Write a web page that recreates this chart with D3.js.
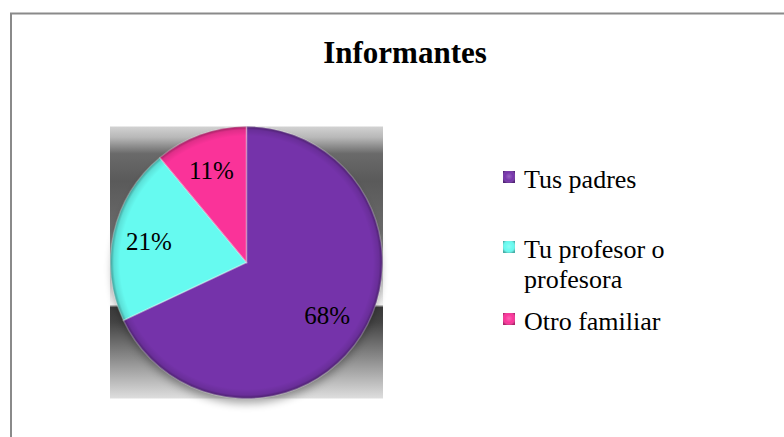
<!DOCTYPE html>
<html>
<head>
<meta charset="utf-8">
<script src="https://cdn.jsdelivr.net/npm/d3@7"></script>
<style>
html,body{margin:0;padding:0;background:#fff;}
svg{display:block;}
</style>
</head>
<body>
<svg id="chart" width="784" height="437"></svg>
<script>
const title = "Informantes";
const categories = ["Tus padres", "Tu profesor o profesora", "Otro familiar"];
const legendLines = [["Tus padres"], ["Tu profesor o", "profesora"], ["Otro familiar"]];
const values = [68, 21, 11];
const colors = ["#7533AA", "#66FAF0", "#FA3399"];

const svg = d3.select("#chart");
const defs = svg.append("defs");
const serif = "'Liberation Serif','Times New Roman',Tinos,serif";

// outer frame
svg.append("rect").attr("x", 11).attr("y", 13.5).attr("width", 820).attr("height", 520)
  .attr("fill", "#fff").attr("stroke", "#8a8a8a").attr("stroke-width", 2);

// title
svg.append("text").attr("x", 405).attr("y", 63).attr("text-anchor", "middle")
  .attr("font-family", serif)
  .attr("font-weight", "bold").attr("font-size", 31).attr("fill", "#000").text(title);

// plot area with chrome gradient
const bg = defs.append("linearGradient").attr("id", "bgGrad").attr("x1", 0).attr("y1", 0).attr("x2", 0).attr("y2", 1);
[[0, "#d2d2d2"], [0.04, "#b8b8b8"], [0.1, "#6a6a6a"], [0.2, "#5a5a5a"], [0.38, "#6a6a6a"], [0.5, "#9a9a9a"], [0.6, "#dcdcdc"], [0.655, "#f6f6f6"], [0.665, "#3a3a3a"], [0.72, "#444"], [0.85, "#8a8a8a"], [1, "#dedede"]]
  .forEach(([o, c]) => bg.append("stop").attr("offset", o).attr("stop-color", c));

const px0 = 110, py0 = 126.5, px1 = 383, py1 = 398.5;
svg.append("rect").attr("x", px0).attr("y", py0).attr("width", px1 - px0).attr("height", py1 - py0)
  .attr("fill", "url(#bgGrad)");

const cx = 246.5, cy = 262.5, r = 136;

// shadow
const blur = defs.append("filter").attr("id", "shadowBlur").attr("x", "-20%").attr("y", "-20%").attr("width", "140%").attr("height", "140%");
blur.append("feGaussianBlur").attr("stdDeviation", 4);
svg.append("ellipse").attr("cx", cx).attr("cy", cy + 6).attr("rx", r - 2).attr("ry", r - 1)
  .attr("fill", "#000").attr("opacity", 0.35).attr("filter", "url(#shadowBlur)");

const g = svg.append("g").attr("transform", `translate(${cx},${cy})`);
const pie = d3.pie().sort(null).value(d => d)(values);
const arc = d3.arc().innerRadius(0).outerRadius(r);

g.selectAll("path.slice").data(pie).join("path").attr("class", "slice")
  .attr("d", arc).attr("fill", (d, i) => colors[i]);

// bevel overlay: darker rim (in user space, centred on the pie)
const rim = defs.append("radialGradient").attr("id", "rimGrad").attr("gradientUnits", "userSpaceOnUse")
  .attr("cx", 0).attr("cy", 0).attr("r", r);
[[0, "rgba(0,0,0,0)"], [0.93, "rgba(0,0,0,0)"], [0.975, "rgba(0,0,0,0.1)"], [1, "rgba(0,0,0,0.38)"]]
  .forEach(([o, c]) => rim.append("stop").attr("offset", o).attr("stop-color", c));
g.selectAll("path.rim").data(pie).join("path").attr("class", "rim")
  .attr("d", arc).attr("fill", "url(#rimGrad)");
// soft light edges between slices
g.selectAll("path.edge").data(pie).join("path").attr("class", "edge")
  .attr("d", arc).attr("fill", "none").attr("stroke", "rgba(255,255,255,0.25)").attr("stroke-width", 1.5);

// labels
const labelArc = d3.arc().innerRadius(r * 0.72).outerRadius(r * 0.72);
g.selectAll("text.lbl").data(pie).join("text").attr("class", "lbl")
  .attr("x", d => labelArc.centroid(d)[0] - 2).attr("y", d => labelArc.centroid(d)[1] + 9)
  .attr("text-anchor", "middle")
  .attr("font-family", serif).attr("font-size", 25).attr("fill", "#000")
  .text(d => d.data + "%");

// legend
const legendY = [188, 258, 330];
const mk = defs.append("radialGradient").attr("id", "mkGrad").attr("cx", "50%").attr("cy", "45%").attr("r", "60%");
[[0, "rgba(255,255,255,0.25)"], [0.6, "rgba(255,255,255,0)"], [1, "rgba(0,0,0,0.3)"]]
  .forEach(([o, c]) => mk.append("stop").attr("offset", o).attr("stop-color", c));
const leg = svg.append("g");
categories.forEach((c, i) => {
  const y = legendY[i];
  leg.append("rect").attr("x", 503).attr("y", y - 17).attr("width", 12).attr("height", 12).attr("fill", colors[i]);
  leg.append("rect").attr("x", 503).attr("y", y - 17).attr("width", 12).attr("height", 12).attr("fill", "url(#mkGrad)");
  const t = leg.append("text").attr("x", 524).attr("y", y)
    .attr("font-family", serif).attr("font-size", 26).attr("fill", "#000");
  legendLines[i].forEach((ln, j) => {
    t.append("tspan").attr("x", 524).attr("dy", j === 0 ? 0 : 30).text(ln);
  });
});
</script>
</body>
</html>
